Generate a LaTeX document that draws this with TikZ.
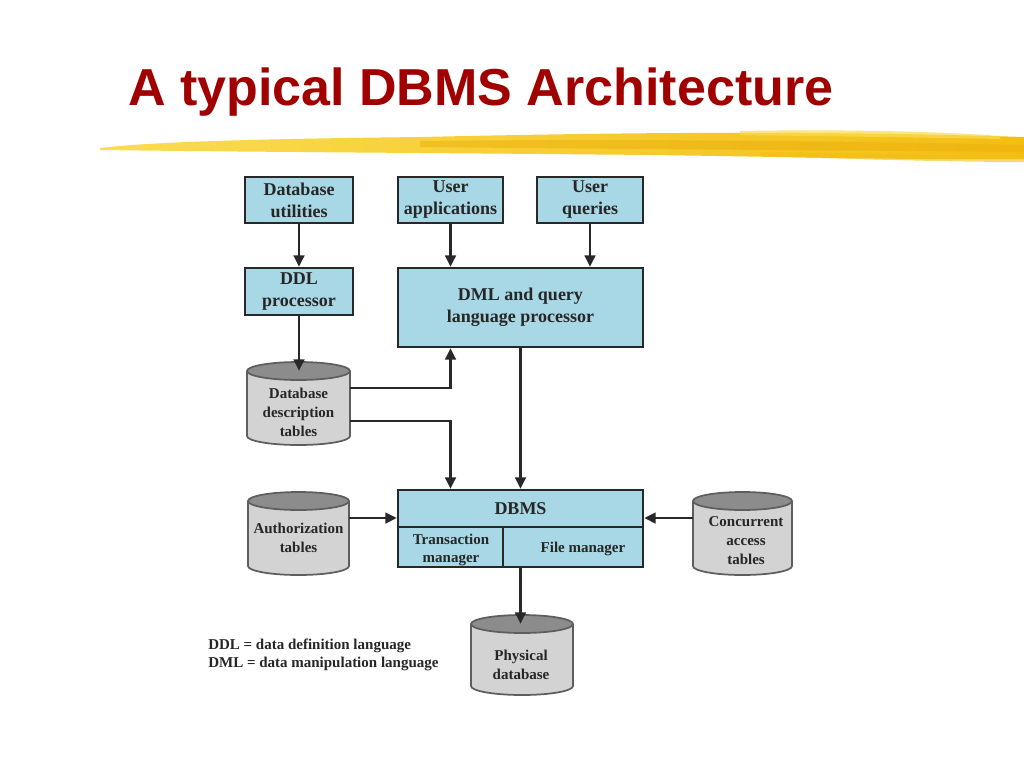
\documentclass[tikz,border=0pt]{standalone}
\usepackage{fontspec}
\setmainfont{Liberation Serif}
\newfontfamily\titlefont{Liberation Sans}
\usetikzlibrary{arrows.meta,calc}
\definecolor{boxblue}{RGB}{168,216,230}
\definecolor{cylbody}{RGB}{211,211,211}
\definecolor{cyltop}{RGB}{140,140,140}
\definecolor{edge}{RGB}{40,40,40}
\definecolor{titlered}{RGB}{160,0,0}
\definecolor{brushA}{RGB}{250,220,80}
\definecolor{brushB}{RGB}{243,190,20}
\definecolor{brushC}{RGB}{235,175,10}
\tikzset{
  boxnode/.style={draw=edge, line width=1.9pt, fill=boxblue, align=center,
    inner sep=0pt, font=\fontsize{13.5}{16.5}\selectfont\bfseries, text=black!85},
  cyltext/.style={align=center, inner sep=0pt, font=\fontsize{11.25}{14.25}\selectfont\bfseries, text=black!85},
  subtext/.style={align=center, inner sep=0pt, font=\fontsize{11.25}{13.5}\selectfont\bfseries, text=black!85},
  cylshape/.style={rectangle, inner sep=0pt, draw=none},
  arr/.style={-{Triangle[length=8.5pt,width=8pt]}, line width=1.8pt, draw=edge},
}
\newcommand\dbcyl[5]{%
  \filldraw[fill=cylbody, draw=edge!75, line width=1.3pt] (#1,{#2+#4/2-9}) ellipse [x radius={#3/2}, y radius=9];
  \fill[cylbody] ({#1-#3/2},{#2-#4/2+9}) rectangle ({#1+#3/2},{#2+#4/2-9});
  \draw[edge!75, line width=1.3pt] ({#1-#3/2},{#2-#4/2+9}) -- ({#1-#3/2},{#2+#4/2-9})
       ({#1+#3/2},{#2-#4/2+9}) -- ({#1+#3/2},{#2+#4/2-9});
  \filldraw[fill=cyltop, draw=edge!75, line width=1.3pt] (#1,{#2-#4/2+9}) ellipse [x radius={#3/2}, y radius=9];
  \node[cylshape, minimum width=#3*0.75pt, minimum height=#4*0.75pt] (#5) at (#1,#2) {};
}
\begin{document}
\begin{tikzpicture}[x=0.75pt,y=-0.75pt]
\useasboundingbox (0,0) rectangle (1024,768);
\fill[white] (0,0) rectangle (1024,768);
% brush stroke
\shade[left color=brushA, right color=brushB]
  (100,148) .. controls (150,142) and (250,139) .. (420,137)
  .. controls (600,133) and (800,130) .. (1024,137)
  -- (1024,159) .. controls (900,160) and (800,157) .. (650,155)
  .. controls (450,153) and (250,152) .. (100,150) -- cycle;
\fill[brushC, opacity=0.5] (420,141) .. controls (600,139) and (800,140) .. (1024,145)
  -- (1024,152) .. controls (800,150) and (600,149) .. (420,147) -- cycle;
\fill[brushA, opacity=0.7] (740,131) .. controls (850,129) and (950,132) .. (1000,136)
  -- (1000,139) .. controls (900,137) and (800,136) .. (740,135) -- cycle;
\fill[brushB, opacity=0.6] (760,152) .. controls (850,153) and (950,156) .. (1024,156)
  -- (1024,162) .. controls (950,162) and (850,159) .. (760,156) -- cycle;
% title
\node[anchor=base west, inner sep=0pt, text=titlered, font=\titlefont\fontsize{39}{42}\selectfont\bfseries] (title) at (128,105) {A typical DBMS Architecture};
% boxes
\node[boxnode, minimum width=108*0.75pt, minimum height=46*0.75pt] (util) at (299,200) {Database\\utilities};
\node[boxnode, minimum width=105*0.75pt, minimum height=46*0.75pt] (uapp) at (450.5,200) {User\\applications};
\node[boxnode, minimum width=106*0.75pt, minimum height=46*0.75pt] (uq) at (590,200) {User\\queries};
\node[boxnode, minimum width=108*0.75pt, minimum height=47*0.75pt] (ddl) at (299,291.5) {DDL\\processor};
\node[boxnode, minimum width=245*0.75pt, minimum height=79*0.75pt] (dml) at (520.5,307.5) {DML and query\\language processor};
\node[boxnode, minimum width=245*0.75pt, minimum height=77*0.75pt] (dbms) at (520.5,528.5) {};
\draw[edge, line width=1.9pt] (398,527) -- (643,527) (503,527) -- (503,567);
\node[boxnode, draw=none, fill=none] (dbmsl) at (520.5,509) {DBMS};
\node[subtext] (tm) at (451,549.5) {Transaction\\manager};
\node[subtext] (fm) at (583,549) {File manager};
% cylinders
\dbcyl{298.5}{403.5}{103}{83}{ddt}
\node[cyltext] (ddtl) at (298.5,412) {Database\\description\\tables};
\dbcyl{298.5}{533.5}{101}{83}{auth}
\node[cyltext] (authl) at (298.5,538) {Authorization\\tables};
\dbcyl{742.5}{533.5}{99}{83}{conc}
\node[cyltext] (concl) at (746,541) {Concurrent\\access\\tables};
\dbcyl{522}{655}{102}{80}{phys}
\node[cyltext] (physl) at (521,664.5) {Physical\\database};
% legend
\node[anchor=west, align=left, inner sep=0pt, text=black!85, font=\fontsize{11.25}{13.5}\selectfont\bfseries] (legend) at (208,655) {DDL = data definition language\\DML = data manipulation language};
% connectors
\draw[arr] (util) -- (ddl);
\draw[arr] (uapp) -- (uapp.south |- dml.north);
\draw[arr] (uq) -- (uq.south |- dml.north);
\coordinate (ddltop) at ([yshift=-6.75pt]ddt.north);
\draw[arr] (ddl) -- (ddl.south |- ddltop);
\coordinate (d1) at ([yshift=11.6pt]ddt.east);
\coordinate (d2) at ([yshift=-13.1pt]ddt.east);
\draw[arr] (d1) -| (uapp.south |- dml.south);
\draw[arr] (d2) -| (uapp.south |- dbms.north);
\draw[arr] (dml) -- (dbms);
\coordinate (a1) at ([yshift=11.6pt]auth.east);
\draw[arr] (a1) -- (a1 -| dbms.west);
\coordinate (c1) at ([yshift=11.6pt]conc.west);
\draw[arr] (c1) -- (c1 -| dbms.east);
\coordinate (ptop) at ([yshift=-6.75pt]phys.north);
\draw[arr] (dbms.south) -- (dbms.south |- ptop);
\end{tikzpicture}
\end{document}
